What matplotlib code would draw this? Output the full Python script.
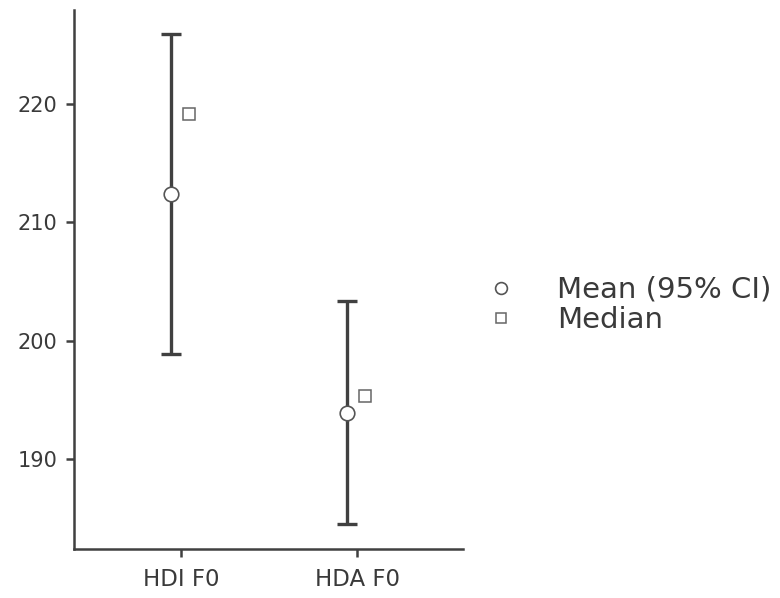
import matplotlib
matplotlib.use("Agg")
import matplotlib.pyplot as plt
from matplotlib.lines import Line2D
import numpy as np

categories = ["HDI F0", "HDA F0"]
means = [212.4, 193.9]
ci_low = [198.9, 184.5]
ci_high = [225.9, 203.3]
medians = [219.15, 195.3]

plt.rcParams['font.family'] = ['DejaVu Sans']
dark = "#404040"

fig = plt.figure(figsize=(7.8, 5.98), dpi=100)
ax = fig.add_axes([74/780, 49/598, (463-74)/780, (549-10)/598])

x = np.arange(len(categories))
off_mean = -0.057
off_med = 0.048
m = np.array(means)
yerr = [m - np.array(ci_low), np.array(ci_high) - m]
ax.errorbar(x + off_mean, m, yerr=yerr, fmt='none', ecolor=dark,
            elinewidth=2.4, capsize=7, capthick=2.4, zorder=2)
ax.plot(x + off_mean, m, 'o', ms=10.5, mfc='white', mec='#555555', mew=1.2, zorder=3)
ax.plot(x + off_med, medians, 's', ms=9, mfc='white', mec='#666666', mew=1.1, zorder=3)

ax.set_xlim(-0.608, 1.602)
ax.set_ylim(182.4, 227.9)
ax.set_yticks([190, 200, 210, 220])
ax.set_xticks(x)
ax.set_xticklabels(categories)
for s in ['top', 'right']:
    ax.spines[s].set_visible(False)
for s in ['left', 'bottom']:
    ax.spines[s].set_color(dark)
    ax.spines[s].set_linewidth(1.8)
ax.tick_params(axis='y', labelsize=15, colors=dark, labelcolor='#3a3a3a', length=6, width=1.8, pad=6)
ax.tick_params(axis='x', labelsize=16.5, colors=dark, labelcolor='#3a3a3a', length=6, width=1.8, pad=8)

handles = [
    Line2D([], [], ls='none', marker='o', ms=8.5, mfc='white', mec='#555555', mew=1.2),
    Line2D([], [], ls='none', marker='s', ms=7.5, mfc='white', mec='#666666', mew=1.1),
]
fig.legend(handles, ["Mean (95% CI)", "Median"], loc='center left',
           bbox_to_anchor=(486/780, 1 - 305/598), frameon=False,
           fontsize=21, handlelength=1.0, handletextpad=1.45, labelspacing=0.08,
           labelcolor='#3a3a3a', borderaxespad=0, borderpad=0)

fig.savefig("out.png", dpi=100)
